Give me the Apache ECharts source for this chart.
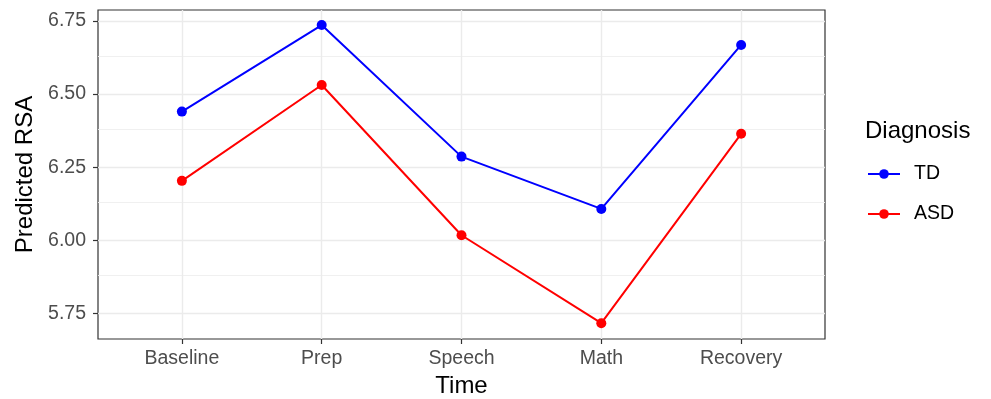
<!DOCTYPE html>
<html>
<head>
<meta charset="utf-8">
<script src="https://cdn.jsdelivr.net/npm/echarts@6/dist/echarts.min.js"></script>
<style>
  html, body { margin: 0; padding: 0; background: #fff; }
  #chart { width: 991px; height: 399px; }
</style>
</head>
<body>
<div id="chart"></div>
<script>
// Predicted RSA by time point, per diagnosis group
const times = ['Baseline', 'Prep', 'Speech', 'Math', 'Recovery'];
const tdValues = [6.440, 6.736, 6.286, 6.107, 6.668];
const asdValues = [6.203, 6.531, 6.017, 5.716, 6.364];
const yTicks = [5.75, 6.00, 6.25, 6.50, 6.75];
const yMinorTicks = [5.875, 6.125, 6.375, 6.625];
const xPositions = [1, 2, 3, 4, 5];

const FONT = '"Liberation Sans", Arial, sans-serif';
const toPoints = vals => vals.map((v, i) => [xPositions[i], v]);

// panel grid: minor and major horizontal lines, major vertical lines
const gridLines = [].concat(
  yMinorTicks.map(v => ({ yAxis: v, lineStyle: { color: '#EEEEEE', width: 0.9, type: 'solid' } })),
  yTicks.map(v => ({ yAxis: v, lineStyle: { color: '#EBEBEB', width: 1.4, type: 'solid' } })),
  xPositions.map(v => ({ xAxis: v, lineStyle: { color: '#EBEBEB', width: 1.4, type: 'solid' } }))
);

const chart = echarts.init(document.getElementById('chart'), null, { renderer: 'canvas' });
chart.setOption({
  animation: false,
  backgroundColor: '#ffffff',
  textStyle: { fontFamily: FONT },
  title: {
    text: 'Diagnosis',
    left: 865,
    top: 119,
    padding: 0,
    textStyle: { fontFamily: FONT, fontSize: 24, fontWeight: 'normal', color: '#000', lineHeight: 24 }
  },
  legend: {
    orient: 'vertical',
    left: 867,
    top: 163,
    padding: 0,
    itemWidth: 32,
    itemHeight: 12,
    itemGap: 18,
    data: ['TD', 'ASD'],
    textStyle: { fontFamily: FONT, fontSize: 19.5, color: '#000', lineHeight: 22, padding: [0, 0, 0, 9] }
  },
  grid: {
    left: 98, right: 166, top: 10, bottom: 60,
    containLabel: false,
    outerBoundsMode: 'none',
    show: true, borderColor: '#333333', borderWidth: 1.2, backgroundColor: '#fff'
  },
  xAxis: {
    type: 'value',
    min: 0.4,
    max: 5.6,
    name: 'Time',
    nameLocation: 'middle',
    nameGap: 35,
    nameTextStyle: { fontFamily: FONT, fontSize: 24, color: '#000' },
    axisLine: { show: false },
    axisTick: { show: true, length: 5, customValues: xPositions, lineStyle: { color: '#333333', width: 1.2 } },
    axisLabel: {
      customValues: xPositions,
      formatter: v => times[Math.round(v) - 1],
      fontFamily: FONT, fontSize: 19.5, color: '#4D4D4D', margin: 10
    },
    splitLine: { show: false }
  },
  yAxis: {
    type: 'value',
    min: 5.662,
    max: 6.7876,
    name: 'Predicted RSA',
    nameLocation: 'middle',
    nameGap: 61,
    nameTextStyle: { fontFamily: FONT, fontSize: 24, color: '#000' },
    axisLine: { show: false },
    axisTick: { show: true, length: 5, customValues: yTicks, lineStyle: { color: '#333333', width: 1.2 } },
    axisLabel: {
      customValues: yTicks,
      formatter: v => v.toFixed(2),
      fontFamily: FONT, fontSize: 19.5, color: '#4D4D4D', margin: 12
    },
    splitLine: { show: false }
  },
  series: [
    {
      name: 'grid',
      type: 'line',
      data: [],
      silent: true,
      z: 1,
      markLine: { silent: true, symbol: 'none', label: { show: false }, z: 1, animation: false, data: gridLines }
    },
    {
      name: 'TD',
      type: 'line',
      z: 3,
      data: toPoints(tdValues),
      symbol: 'circle',
      symbolSize: 10,
      color: '#0000FF',
      lineStyle: { color: '#0000FF', width: 2 },
      itemStyle: { color: '#0000FF' }
    },
    {
      name: 'ASD',
      type: 'line',
      z: 3,
      data: toPoints(asdValues),
      symbol: 'circle',
      symbolSize: 10,
      color: '#FF0000',
      lineStyle: { color: '#FF0000', width: 2 },
      itemStyle: { color: '#FF0000' }
    }
  ]
});
</script>
</body>
</html>
